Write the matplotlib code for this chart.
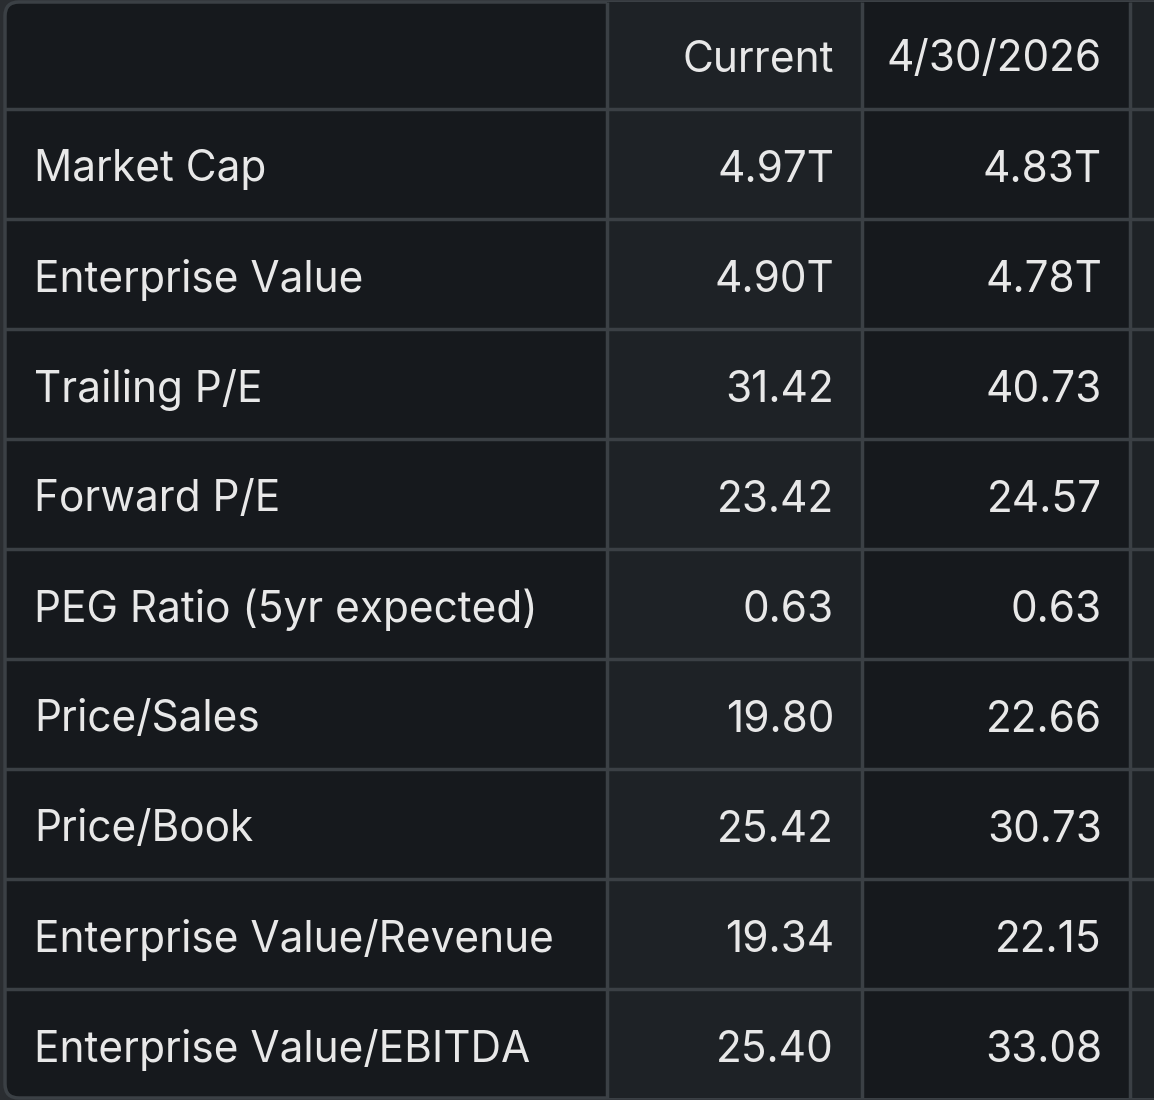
import matplotlib
matplotlib.use("Agg")
from matplotlib import pyplot as plt
from matplotlib.patches import Rectangle, FancyBboxPatch

# table content
header = ["", "Current", "4/30/2026"]
metrics = ["Market Cap", "Enterprise Value", "Trailing P/E", "Forward P/E",
           "PEG Ratio (5yr expected)", "Price/Sales", "Price/Book",
           "Enterprise Value/Revenue", "Enterprise Value/EBITDA"]
current = ["4.97T", "4.90T", "31.42", "23.42", "0.63", "19.80", "25.42", "19.34", "25.40"]
apr2026 = ["4.83T", "4.78T", "40.73", "24.57", "0.63", "22.66", "30.73", "22.15", "33.08"]

# layout (pixels)
W, H = 1154, 1100
col_edges = [5, 607, 862, 1130, 1160]
top, row_h = 0, 110
col_bg = ["#16191d", "#1e2226", "#16191d", "#1e2226"]
line_c = "#3b4045"
text_c = "#e8e8e8"

plt.rcParams['font.family'] = ['Inter', 'DejaVu Sans']

fig = plt.figure(figsize=(W / 100, H / 100), dpi=100)
fig.patch.set_facecolor("#2a2d31")
ax = fig.add_axes([0, 0, 1, 1])
ax.set_xlim(0, W)
ax.set_ylim(H, 0)
ax.axis("off")

n_rows = len(metrics) + 1
bottom = top + n_rows * row_h

# outer rounded frame
ax.add_patch(FancyBboxPatch((col_edges[0], 2), W + 20, bottom - 4,
                            boxstyle="round,pad=0,rounding_size=14",
                            facecolor=col_bg[0], edgecolor=line_c, lw=2.5, zorder=0))

for i in range(1, 4):
    ax.add_patch(Rectangle((col_edges[i], 2), col_edges[i + 1] - col_edges[i], bottom - 4,
                           facecolor=col_bg[i], edgecolor="none", zorder=1))

# grid lines
for r in range(1, n_rows):
    ax.plot([col_edges[0], W], [top + r * row_h - 1, top + r * row_h - 1],
            color=line_c, lw=2.5, zorder=2, solid_capstyle="butt")
for c in col_edges[1:4]:
    ax.plot([c, c], [2, bottom - 2], color=line_c, lw=2.5, zorder=2, solid_capstyle="butt")

fs = 30.5
pad = 28
dy = 5
ax.text(col_edges[2] - pad, top + row_h / 2 + dy, header[1], ha="right", va="center",
        fontsize=fs, color=text_c, zorder=3)
ax.text(col_edges[3] - pad, top + row_h / 2 + dy, header[2], ha="right", va="center",
        fontsize=fs, color=text_c, zorder=3)

for i, (m, c1, c2) in enumerate(zip(metrics, current, apr2026)):
    y = top + (i + 1) * row_h + row_h / 2 + dy
    ax.text(col_edges[0] + 29, y, m, ha="left", va="center", fontsize=fs, color=text_c, zorder=3)
    ax.text(col_edges[2] - pad, y, c1, ha="right", va="center", fontsize=fs, color=text_c, zorder=3)
    ax.text(col_edges[3] - pad, y, c2, ha="right", va="center", fontsize=fs, color=text_c, zorder=3)

fig.savefig("out.png", dpi=100, facecolor=fig.get_facecolor())
